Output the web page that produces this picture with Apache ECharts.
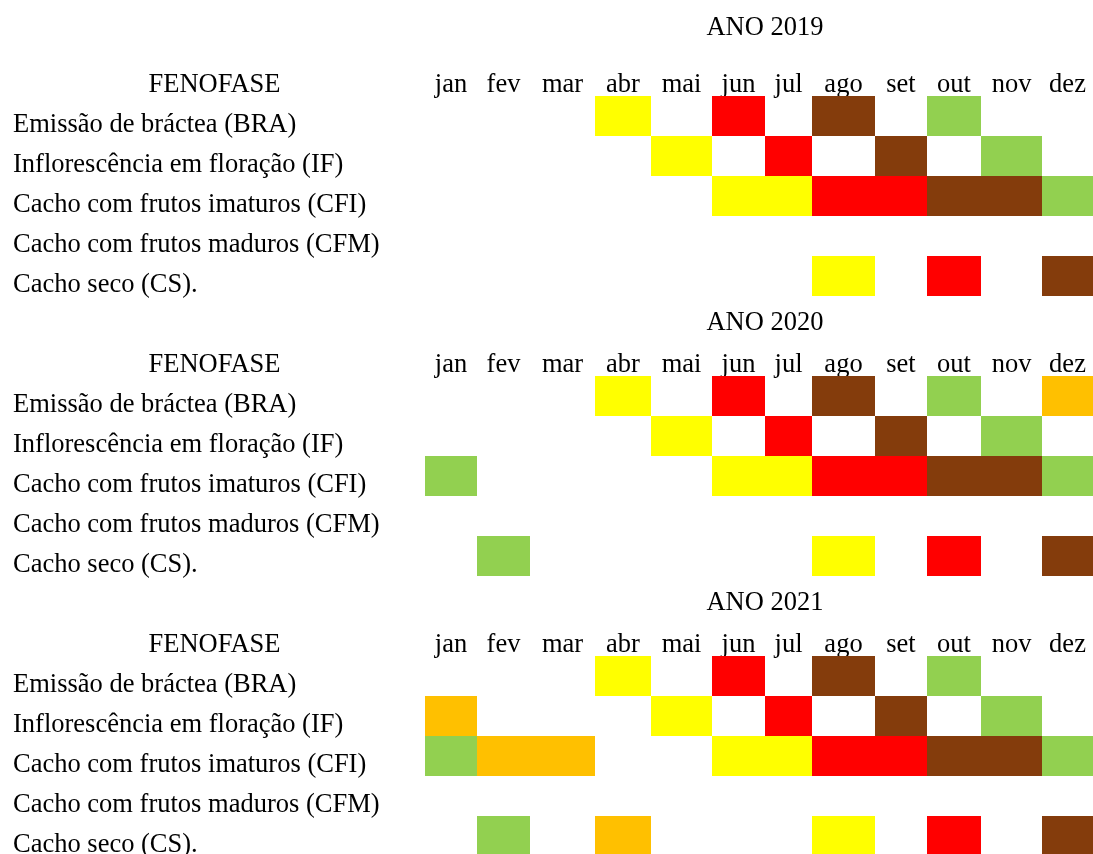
<!DOCTYPE html>
<html>
<head>
<meta charset="utf-8">
<title>Fenofases 2019-2021</title>
<script src="https://cdn.jsdelivr.net/npm/echarts@6/dist/echarts.min.js"></script>
<style>
  html, body { margin: 0; padding: 0; background: #fff; overflow: hidden; }
  /* a última linha da tabela é cortada na borda inferior da imagem */
  #chart { width: 1093px; height: 860px; }
</style>
</head>
<body>
<div id="chart"></div>
<script>
// meses e fenofases
const months = ['jan', 'fev', 'mar', 'abr', 'mai', 'jun', 'jul', 'ago', 'set', 'out', 'nov', 'dez'];
const phases = [
  'Emissão de bráctea (BRA)',
  'Inflorescência em floração (IF)',
  'Cacho com frutos imaturos (CFI)',
  'Cacho com frutos maduros (CFM)',
  'Cacho seco (CS).'
];
const years = ['ANO 2019', 'ANO 2020', 'ANO 2021'];

// uma string por fenofase, um caractere por mês
// Y amarelo, R vermelho, B marrom, G verde, O laranja, . vazio
const cells2019 = ['...Y.R.B.G..', '....Y.R.B.G.', '.....YYRRBBG', '............', '.......Y.R.B'];
const cells2020 = ['...Y.R.B.G.O', '....Y.R.B.G.', 'G....YYRRBBG', '............', '.G.....Y.R.B'];
const cells2021 = ['...Y.R.B.G..', 'O...Y.R.B.G.', 'GOO..YYRRBBG', '............', '.G.O...Y.R.B'];
const palette = { Y: '#FFFF00', R: '#FF0000', B: '#843C0C', G: '#92D050', O: '#FFC000' };

// layout da tabela (px)
const colWidths = [52, 53, 65, 56, 61, 53, 47, 63, 52, 54, 61, 51];
const colEdges = colWidths.reduce((a, w) => (a.push(a[a.length - 1] + w), a), [0]);
const colCenters = colWidths.map((w, i) => colEdges[i] + w / 2);
const tableW = colEdges[colEdges.length - 1];
const blockTops = [96, 376, 656];
const titleYs = [28, 323, 603];
const headYs = [85, 365, 645];

const FONT = 'Liberation Serif, Times New Roman, serif';
const txt = { fontFamily: FONT, fontSize: 26.5, color: '#000' };

const chart = echarts.init(document.getElementById('chart'));
const blocks = [cells2019, cells2020, cells2021];

const grid = [], xAxis = [], yAxis = [], series = [], graphic = [];
blocks.forEach((rows, b) => {
  grid.push({ left: 425, top: blockTops[b], width: tableW, height: 200 });
  xAxis.push({
    gridIndex: b, type: 'value', position: 'top', min: 0, max: tableW,
    axisLine: { show: false }, axisTick: { show: false }, splitLine: { show: false },
    axisLabel: {
      ...txt, customValues: colCenters, margin: 11, verticalAlign: 'middle',
      formatter: v => months[colCenters.indexOf(v)] || ''
    }
  });
  // rótulos alinhados pela base da célula, como na tabela original
  yAxis.push({
    gridIndex: b, type: 'category', data: phases, inverse: true,
    axisLine: { show: false }, axisTick: { show: false }, splitLine: { show: false },
    axisLabel: { ...txt, align: 'left', margin: 412, verticalAlign: 'top', lineHeight: 18 }
  });
  const data = [];
  rows.forEach((row, p) => {
    row.split('').forEach((c, m) => {
      if (c === '.') return;
      data.push({ value: [colEdges[m], colEdges[m + 1], p], itemStyle: { color: palette[c] } });
    });
  });
  series.push({
    type: 'custom', xAxisIndex: b, yAxisIndex: b, silent: true,
    encode: { x: [0, 1], y: 2 },
    renderItem(params, api) {
      const a = api.coord([api.value(0), api.value(2)]);
      const z = api.coord([api.value(1), api.value(2)]);
      const h = api.size([0, 1])[1];
      return {
        type: 'rect',
        shape: { x: a[0], y: a[1] - h / 2, width: z[0] - a[0], height: h },
        style: { fill: api.visual('color') }
      };
    },
    data
  });
  graphic.push(
    { type: 'text', x: 765, y: titleYs[b], style: { text: years[b], font: '26.5px ' + FONT, fill: '#000', align: 'center', verticalAlign: 'middle' } },
    { type: 'text', x: 214.5, y: headYs[b], style: { text: 'FENOFASE', font: '26.5px ' + FONT, fill: '#000', align: 'center', verticalAlign: 'middle' } }
  );
});

chart.setOption({ animation: false, backgroundColor: '#fff', grid, xAxis, yAxis, series, graphic });
</script>
</body>
</html>
